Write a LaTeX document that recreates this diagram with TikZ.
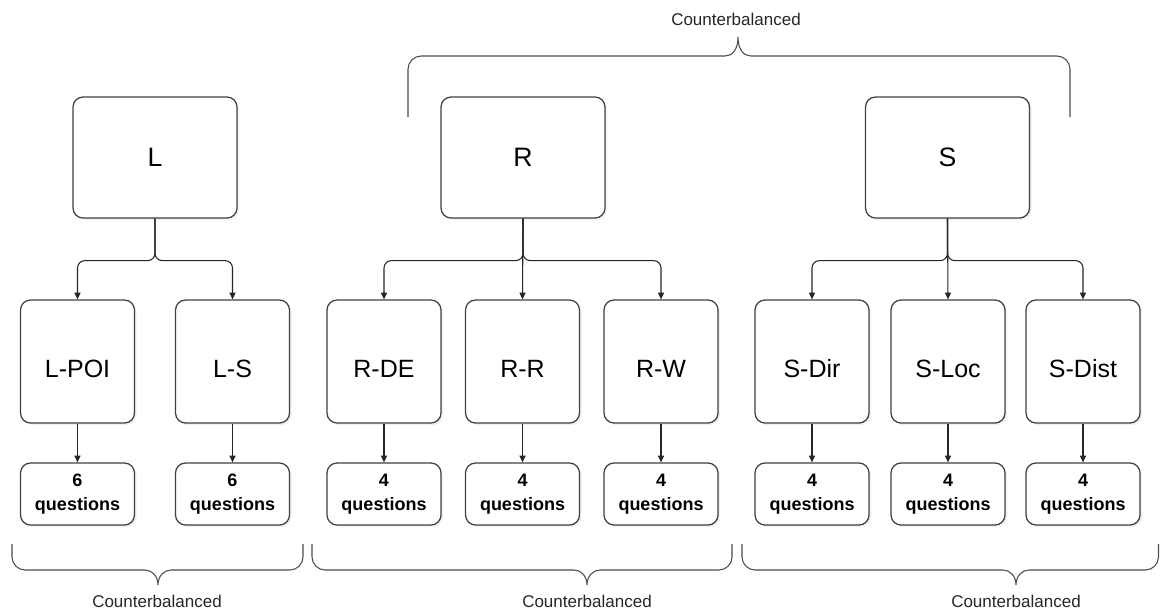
\documentclass[tikz,border=0pt]{standalone}
\usepackage{fontspec}
\setmainfont{Liberation Sans}
\usetikzlibrary{arrows.meta,shadows}
\newcommand{\cbrace}[7]{%
 \draw[bracestyle] (#1,#3) -- (#1,{#4-(#7)*13}) .. controls (#1,{#4-(#7)*6}) and ({#1+6},#4) .. ({#1+13},#4) -- ({#5-13},#4) .. controls ({#5-6},#4) and (#5,{#4+(#7)*6}) .. (#5,#6) .. controls (#5,{#4+(#7)*6}) and ({#5+6},#4) .. ({#5+13},#4) -- ({#2-13},#4) .. controls ({#2-6},#4) and (#2,{#4-(#7)*6}) .. (#2,{#4-(#7)*13}) -- (#2,#3);}
\tikzset{
  box/.style={draw=black!75, line width=0.95pt, rounded corners=7.5pt, fill=white,
    drop shadow={shadow xshift=1.5pt,shadow yshift=-1.5pt,opacity=0.12}, inner sep=0pt},
  parent/.style={box, minimum width=123pt, minimum height=90.75pt,
    font=\fontsize{20pt}{24pt}\selectfont},
  child/.style={box, minimum width=85.5pt, minimum height=92.25pt,
    font=\fontsize{18.75pt}{22pt}\selectfont, text height=24.6pt, text depth=0pt},
  ques/.style={box, minimum width=85.5pt, minimum height=46.5pt, align=center,
    font=\fontsize{13.5pt}{18pt}\selectfont\bfseries},
  conn/.style={draw=black!85, line width=0.8pt, rounded corners=5.5pt,
    -{Triangle[length=5pt,width=4.5pt]}},
  bracestyle/.style={draw=black!70, line width=0.8pt},
  cb/.style={font=\fontsize{12.75pt}{15pt}\selectfont, text=black!85, inner sep=0pt}
}
\begin{document}
\begin{tikzpicture}[x=0.75pt,y=-0.75pt]
\useasboundingbox (0,0) rectangle (1160,611);
% parents
\node[parent] (L) at (155,157.5) {L};
\node[parent] (R) at (523,157.5) {R};
\node[parent] (S) at (947.5,157.5) {S};
% children
\node[child] (LPOI) at (77.5,361.5) {L-POI};
\node[child] (LS) at (232.5,361.5) {L-S};
\node[child] (RDE) at (384,361.5) {R-DE};
\node[child] (RR) at (522.5,361.5) {R-R};
\node[child] (RW) at (661,361.5) {R-W};
\node[child] (SDir) at (812,361.5) {S-Dir};
\node[child] (SLoc) at (948,361.5) {S-Loc};
\node[child] (SDist) at (1083,361.5) {S-Dist};
% questions
\node[ques] (qLPOI) at (77.5,494) {6\\questions};
\node[ques] (qLS) at (232.5,494) {6\\questions};
\node[ques] (qRDE) at (384,494) {4\\questions};
\node[ques] (qRR) at (522.5,494) {4\\questions};
\node[ques] (qRW) at (661,494) {4\\questions};
\node[ques] (qSDir) at (812,494) {4\\questions};
\node[ques] (qSLoc) at (948,494) {4\\questions};
\node[ques] (qSDist) at (1083,494) {4\\questions};
% parent to child connectors
\draw[conn] (L.south) -- ++(0,42) -| (LPOI.north);
\draw[conn] (L.south) -- ++(0,42) -| (LS.north);
\draw[conn] (R.south) -- ++(0,42) -| (RDE.north);
\draw[conn] (R.south) -- (RR.north);
\draw[conn] (R.south) -- ++(0,42) -| (RW.north);
\draw[conn] (S.south) -- ++(0,42) -| (SDir.north);
\draw[conn] (S.south) -- (SLoc.north);
\draw[conn] (S.south) -- ++(0,42) -| (SDist.north);
% child to questions
\foreach \n in {LPOI,LS,RDE,RR,RW,SDir,SLoc,SDist}{
  \draw[conn] (\n.south) -- (q\n.north);
}
% braces
\cbrace{408}{1070}{117}{56}{738}{37}{-1}
\cbrace{12}{303}{544}{570}{158}{585}{1}
\cbrace{312}{732}{544}{570}{587}{585}{1}
\cbrace{742}{1158.5}{544}{570}{1016}{585}{1}
% labels
\node[cb] (cbtop) at (736,19) {Counterbalanced};
\node[cb] (cbL) at (157,601) {Counterbalanced};
\node[cb] (cbR) at (587,601) {Counterbalanced};
\node[cb] (cbS) at (1016,601) {Counterbalanced};
\end{tikzpicture}
\end{document}
